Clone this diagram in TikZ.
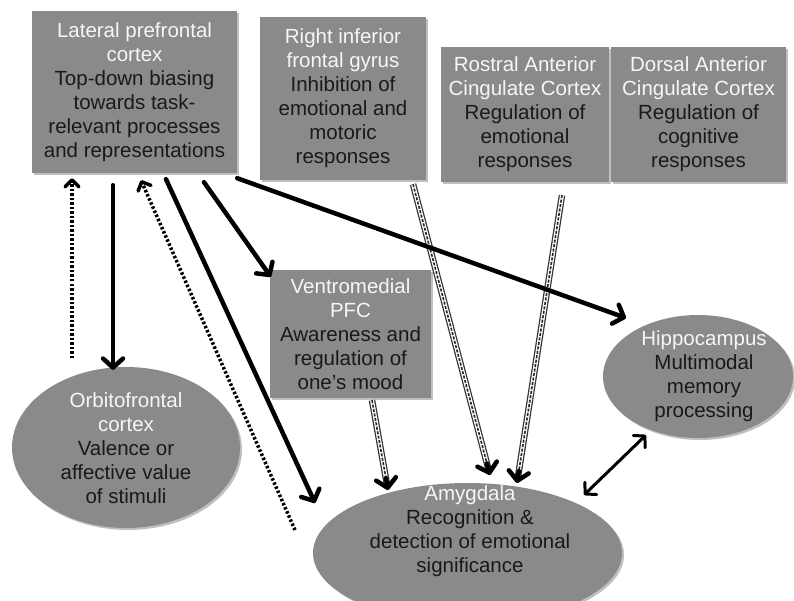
\documentclass[tikz,border=0pt]{standalone}
\usepackage{fontspec}
\setmainfont{Liberation Sans}
\usetikzlibrary{arrows.meta,calc,shapes.geometric,shadows}
\definecolor{boxgray}{RGB}{138,138,138}
\definecolor{titlewhite}{RGB}{246,246,246}
\newcommand{\wt}[1]{\textcolor{titlewhite}{#1}}
\begin{document}
\begin{tikzpicture}[x=1pt,y=-1pt,
  every node/.style={font=\fontsize{20.5}{24}\selectfont, text=black!90},
  box/.style={rectangle, fill=boxgray, align=center, inner sep=0pt,
    drop shadow={shadow xshift=2pt, shadow yshift=-2pt, opacity=0.25, fill=black}},
  oval/.style={ellipse, fill=boxgray, inner sep=0pt,
    drop shadow={shadow xshift=2pt, shadow yshift=-2pt, opacity=0.25, fill=black}},
  txt/.style={align=center, inner sep=0pt},
  solidarrow/.style={line width=4.5pt, line cap=round, line join=round,
    -{Straight Barb[length=9pt,width=20pt,line cap=round,line join=round]}},
  dotarrow/.style={line width=3.5pt, dash pattern=on 2.5pt off 2pt,
    -{Straight Barb[length=7pt,width=14pt,line cap=round,line join=round]}},
  headarrow/.style={line width=4.5pt, line cap=round, line join=round,
    -{Straight Barb[length=9pt,width=20pt,line cap=round,line join=round]}},
  stripe/.style={line width=6.5pt, draw=black!80,
    postaction={draw=white, line width=4pt},
    postaction={draw=black!85, line width=1.6pt, dash pattern=on 3pt off 1.5pt}},
  bothway/.style={line width=3pt, line cap=round, line join=round,
    {Straight Barb[length=8pt,width=17pt,line cap=round,line join=round]}-{Straight Barb[length=8pt,width=17pt,line cap=round,line join=round]}}
]
\useasboundingbox (0,0) rectangle (794,601);

% boxes
\node[box, minimum width=205pt, minimum height=162pt] (lpfc) at (134.5,92)
  {\wt{Lateral prefrontal}\\\wt{cortex}\\Top-down biasing\\towards task-\\relevant processes\\and representations};
\node[box, minimum width=166pt, minimum height=163pt] (rifg) at (343,98.5)
  {\wt{Right inferior}\\\wt{frontal gyrus}\\Inhibition of\\emotional and\\motoric\\responses};
\node[box, minimum width=168pt, minimum height=135pt] (racc) at (525,114.5)
  {\wt{Rostral Anterior}\\\wt{Cingulate Cortex}\\Regulation of\\emotional\\responses};
\node[box, minimum width=175pt, minimum height=135pt] (dacc) at (698.5,114.5)
  {\wt{Dorsal Anterior}\\\wt{Cingulate Cortex}\\Regulation of\\cognitive\\responses};
\node[box, minimum width=161pt, minimum height=128pt] (vmpfc) at (350.5,334)
  {\wt{Ventromedial}\\\wt{PFC}\\Awareness and\\regulation of\\one’s mood};

% ellipses
\node[oval, minimum width=228pt, minimum height=161pt] (ofc) at (126,447.5) {};
\node[txt] (ofct) at (126,448)
  {\wt{Orbitofrontal}\\\wt{cortex}\\Valence or\\affective value\\of stimuli};
\node[oval, minimum width=309pt, minimum height=140pt] (amy) at (467.5,553) {};
\node[txt] (amyt) at (470,531)
  {\wt{Amygdala}\\Recognition \&\\detection of emotional\\significance};
\node[oval, minimum width=190pt, minimum height=123pt] (hip) at (698,376.5) {};
\node[txt] (hipt) at (704,376.5)
  {\wt{Hippocampus}\\Multimodal\\memory\\processing};

% free ends
\coordinate (d1) at (72,358);
\coordinate (d2) at (295,530);

% striped connectors
\coordinate (s7a) at ($(rifg.south)+(70,4)$);
\coordinate (s7b) at ($(amy.center)+(22.5,-78)$);
\coordinate (s8a) at ($(racc.south)+(37,13)$);
\coordinate (s8b) at ($(amy.center)+(49.5,-70)$);
\coordinate (s9a) at ($(vmpfc.south)+(21.5,2)$);
\coordinate (s9b) at ($(amy.center)+(-79.5,-63)$);
\draw[stripe] (s7a) -- ($(s7b)!6pt!(s7a)$);
\draw[stripe] (s8a) -- ($(s8b)!6pt!(s8a)$);
\draw[stripe] (s9a) -- ($(s9b)!6pt!(s9a)$);
\draw[headarrow] ($(s7b)!12pt!(s7a)$) -- (s7b);
\draw[headarrow] ($(s8b)!12pt!(s8a)$) -- (s8b);
\draw[headarrow] ($(s9b)!12pt!(s9a)$) -- (s9b);

% dotted connectors
\draw[dotarrow] (d1) -- ($(lpfc.south)+(-62.5,5)$);
\draw[dotarrow] (d2) -- ($(lpfc.south)+(6.5,7)$);

% solid connectors
\draw[solidarrow] ($(lpfc.south)+(-21.5,12)$) -- ($(ofc.north)+(-13,3)$);
\draw[solidarrow] ($(lpfc.south)+(31.5,6)$) -- ($(amy.center)+(-152.5,-50)$);
\draw[solidarrow] ($(lpfc.south)+(69.5,9)$) -- ($(vmpfc.north west)+(1,7)$);
\draw[solidarrow] ($(lpfc.south east)+(0,5)$) -- ($(hip.center)+(-72,-58.5)$);

% amygdala <-> hippocampus
\draw[bothway] ($(amy.center)+(116.5,-58)$) -- ($(hip.center)+(-52,58.5)$);
\end{tikzpicture}
\end{document}
